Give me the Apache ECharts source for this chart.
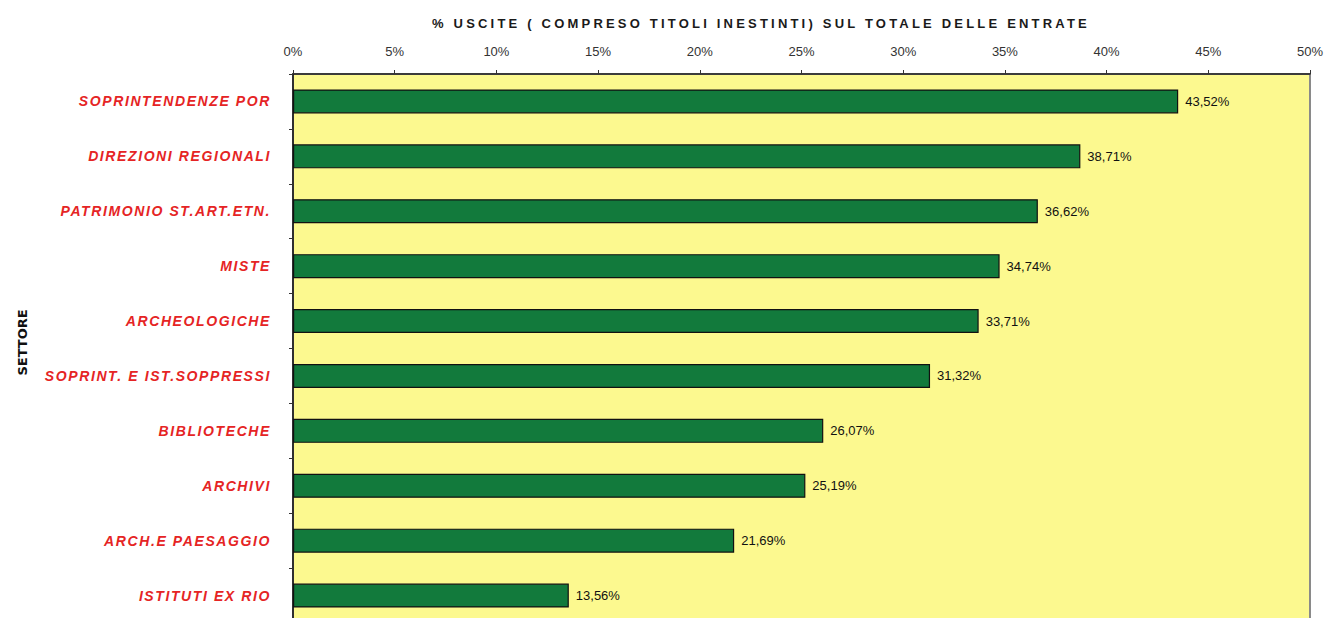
<!DOCTYPE html>
<html>
<head>
<meta charset="utf-8">
<script src="https://cdn.jsdelivr.net/npm/echarts@6/dist/echarts.min.js"></script>
<style>
  html, body { margin: 0; padding: 0; background: #ffffff; }
  #main { width: 1328px; height: 618px; overflow: hidden; }
  #main text[style*="italic"] { letter-spacing: 1.6px; }
  #main text[style*="Liberation Sans"] { letter-spacing: 3.2px; }
</style>
</head>
<body>
<div id="main"></div>
<script>
const titleText = '% USCITE ( COMPRESO TITOLI INESTINTI) SUL TOTALE DELLE ENTRATE';
const axisName = 'SETTORE';
const categories = [
  'SOPRINTENDENZE POR',
  'DIREZIONI REGIONALI',
  'PATRIMONIO ST.ART.ETN.',
  'MISTE',
  'ARCHEOLOGICHE',
  'SOPRINT. E IST.SOPPRESSI',
  'BIBLIOTECHE',
  'ARCHIVI',
  'ARCH.E PAESAGGIO',
  'ISTITUTI EX RIO'
];
const values = [43.52, 38.71, 36.62, 34.74, 33.71, 31.32, 26.07, 25.19, 21.69, 13.56];
const xTicks = [0, 5, 10, 15, 20, 25, 30, 35, 40, 45, 50];

const chart = echarts.init(document.getElementById('main'), null, { renderer: 'svg' });
chart.setOption({
  animation: false,
  backgroundColor: '#ffffff',
  title: {
    text: titleText,
    left: 427,
    top: 12,
    textStyle: { fontFamily: 'Liberation Sans', fontSize: 13, fontWeight: 'bold', color: '#1a1a1a' }
  },
  grid: {
    left: 293, width: 1017, top: 74, height: 549,
    outerBoundsMode: 'none',
    containLabel: false,
    show: true,
    backgroundColor: '#fcf98f',
    borderColor: '#8a8a8a',
    borderWidth: 2
  },
  xAxis: {
    type: 'value',
    position: 'top',
    min: xTicks[0],
    max: xTicks[xTicks.length - 1],
    interval: 5,
    axisLine: { show: true, lineStyle: { color: '#222', width: 1.5 } },
    axisTick: { show: true, inside: false, length: 4, lineStyle: { color: '#333' } },
    axisLabel: {
      margin: 16,
      fontFamily: 'Arial',
      fontSize: 13,
      color: '#333',
      formatter: v => v + '%'
    },
    splitLine: { show: false }
  },
  yAxis: {
    type: 'category',
    data: categories,
    inverse: true,
    name: axisName,
    nameLocation: 'middle',
    nameRotate: 90,
    nameGap: 264,
    nameTextStyle: { fontFamily: 'DejaVu Sans', fontSize: 13, fontWeight: 'bold', color: '#111', padding: [0, 0, 0, 12] },
    axisLine: { show: true, lineStyle: { color: '#111', width: 1.5 } },
    axisTick: { show: true, inside: false, length: 4, lineStyle: { color: '#333' } },
    axisLabel: {
      margin: 22,
      fontFamily: 'Arial',
      fontSize: 14,
      fontStyle: 'italic',
      fontWeight: 'bold',
      color: '#e52424'
    }
  },
  series: [{
    type: 'bar',
    data: values,
    barWidth: 24,
    itemStyle: { color: '#127a3c', borderColor: '#111', borderWidth: 1.2 },
    label: {
      show: true,
      position: 'right',
      distance: 7,
      fontFamily: 'Arial',
      fontSize: 13,
      color: '#111',
      formatter: p => p.value.toFixed(2).replace('.', ',') + '%'
    }
  }]
});
</script>
</body>
</html>
